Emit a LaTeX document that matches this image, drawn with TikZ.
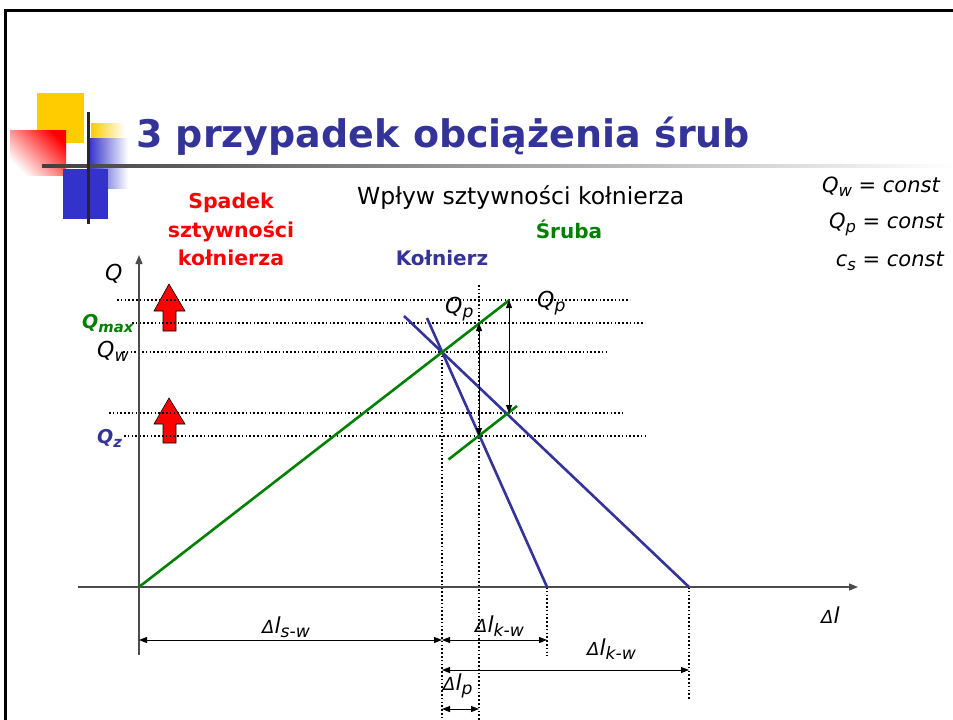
\documentclass[tikz,border=0pt]{standalone}
\usepackage{fontspec}
\setmainfont{DejaVu Sans}
\usetikzlibrary{arrows.meta,shadings}
\definecolor{tblue}{HTML}{333399}
\definecolor{tgreen}{HTML}{008000}
\definecolor{dblue}{HTML}{3333CC}
\definecolor{dyellow}{HTML}{FFCC00}
\newcommand\lsub[1]{\raisebox{-0.22em}{\scalebox{0.78}{#1}}}
\newcommand\fsz[1]{\fontsize{#1}{#1}\selectfont}
\newcommand\dl{{\fsz{18}Δ}l}
\tikzset{
  axisline/.style={line width=1.3pt, black!70},
  dotline/.style={line width=1.5pt, black, dash pattern=on 1.5pt off 2.3pt},
  gline/.style={line width=2.6pt, tgreen},
  bline/.style={line width=2.6pt, tblue},
  dimline/.style={line width=1pt, black, {Triangle[length=8pt,width=6pt]}-{Triangle[length=8pt,width=6pt]}},
  lbl/.style={inner sep=0pt, anchor=base west, font=\itshape\fsz{22}},
  blockarrow/.style={fill=red, draw=black, line width=0.6pt},
}
\begin{document}
\begin{tikzpicture}[x=1pt,y=-1pt]
\useasboundingbox (0,0) rectangle (953,720);
\fill[white] (0,0) rectangle (953,720);
% frame
\draw[line width=3pt] (5,725) -- (5,10) -- (960,10);
% decoration
\fill[dyellow] (37,93) rectangle (84,143);
\shade[shading=axis, top color=white, bottom color=red, shading angle=135] (10,130) rectangle (66,175);
\shade[left color=dyellow, right color=white] (91,123) rectangle (125,138);
\shade[left color=dblue, right color=white] (89,138) rectangle (128,188);
\fill[dblue] (63,169) rectangle (108,219);
\shade[left color=black!75, right color=white] (42,164.5) rectangle (953,167.5);
\draw[line width=3pt, black!85] (88,112) -- (88,224);
% title and texts
\node[anchor=base west, inner sep=0pt, text=tblue, font=\bfseries\fsz{38}] (title) at (136,147) {3 przypadek obciążenia śrub};
\node[anchor=base west, inner sep=0pt, font=\fsz{23.5}] (sub) at (357,204) {Wpływ sztywności kołnierza};
\node[anchor=base, inner sep=0pt, text=red, font=\bfseries\fsz{20.5}] (sp1) at (231,208) {Spadek};
\node[anchor=base, inner sep=0pt, text=red, font=\bfseries\fsz{20.5}] (sp2) at (231,237) {sztywności};
\node[anchor=base, inner sep=0pt, text=red, font=\bfseries\fsz{20.5}] (sp3) at (231,265) {kołnierza};
\node[anchor=base, inner sep=0pt, text=tgreen, font=\bfseries\fsz{20}] (sruba) at (569,238) {Śruba};
\node[anchor=base, inner sep=0pt, text=tblue, font=\bfseries\fsz{20}] (kol) at (442,265) {Kołnierz};
\node[anchor=base east, inner sep=0pt, font=\itshape\fsz{21}] (c1) at (940,192) {Q\lsub{w} = const};
\node[anchor=base east, inner sep=0pt, font=\itshape\fsz{21}] (c2) at (944,228) {Q\lsub{p} = const};
\node[anchor=base east, inner sep=0pt, font=\itshape\fsz{21}] (c3) at (944,266) {c\lsub{s} = const};
% key points
\coordinate (O) at (139,587);
\coordinate (Ytop) at (139,255);
\coordinate (Ybot) at (139,655);
\coordinate (Xl) at (78,587);
\coordinate (Xr) at (858,587);
\coordinate (W) at (442,352);
\coordinate (Btop) at (509.5,300);
\coordinate (S1) at (448.5,459.5);
\coordinate (S2) at (517,406);
\coordinate (K1a) at (427,318);
\coordinate (K1b) at (547,587);
\coordinate (K2a) at (404,316);
\coordinate (K2b) at (689,587);
% red block arrows
\draw[blockarrow] (169,284) -- (185,311) -- (176,311) -- (176,331) -- (163,331) -- (163,311) -- (154,311) -- cycle;
\draw[blockarrow] (169,398) -- (185,424) -- (176,424) -- (176,443) -- (163,443) -- (163,424) -- (154,424) -- cycle;
% dotted lines
\draw[dotline] (117,300) -- (630,300);
\draw[dotline] (132,323) -- (645,323);
\draw[dotline] (123,352) -- (607,352);
\draw[dotline] (109,413) -- (623,413);
\draw[dotline] (124,436) -- (647,436);
\draw[dotline] (W) -- (442,720);
\draw[dotline] (479,285) -- (479,720);
\draw[dotline] (K1b) -- (547,656);
\draw[dotline] (K2b) -- (689,700);
% axes
\draw[axisline, -{Triangle[length=9pt,width=7pt]}] (Ybot) -- (Ytop);
\draw[axisline, -{Triangle[length=9pt,width=7pt]}] (Xl) -- (Xr);
% characteristic lines
\draw[bline] (K1a) -- (K1b);
\draw[bline] (K2a) -- (K2b);
\draw[gline] (O) -- (Btop);
\draw[gline] (S1) -- (S2);
% Qp arrows
\draw[dimline] (479,323) -- (479,436);
\draw[dimline] (509,300) -- (509,413);
% dimension lines
\draw[dimline] (139,640) -- (442,640);
\draw[dimline] (442,640) -- (547,640);
\draw[dimline] (442,670) -- (689,670);
\draw[dimline] (442,709) -- (479,709);
% labels
\node[lbl] (lQ) at (105,280) {Q};
\node[lbl, text=tgreen, font=\bfseries\itshape\fsz{19}] (lQmax) at (82,328) {Q\lsub{max}};
\node[lbl] (lQw) at (97,357) {Q\lsub{w}};
\node[lbl, text=tblue, font=\bfseries\itshape\fsz{19}] (lQz) at (97,443) {Q\lsub{z}};
\node[lbl] (lQp1) at (445,313) {Q\lsub{p}};
\node[lbl] (lQp2) at (537,307) {Q\lsub{p}};
\node[lbl] (ldl) at (821,623) {\dl};
\node[lbl] (ldsw) at (262,633) {\dl\lsub{s-w}};
\node[lbl] (ldkw1) at (475,632) {\dl\lsub{k-w}};
\node[lbl] (ldkw2) at (587,655) {\dl\lsub{k-w}};
\node[lbl] (ldp) at (443,690) {\dl\lsub{p}};
\end{tikzpicture}
\end{document}
